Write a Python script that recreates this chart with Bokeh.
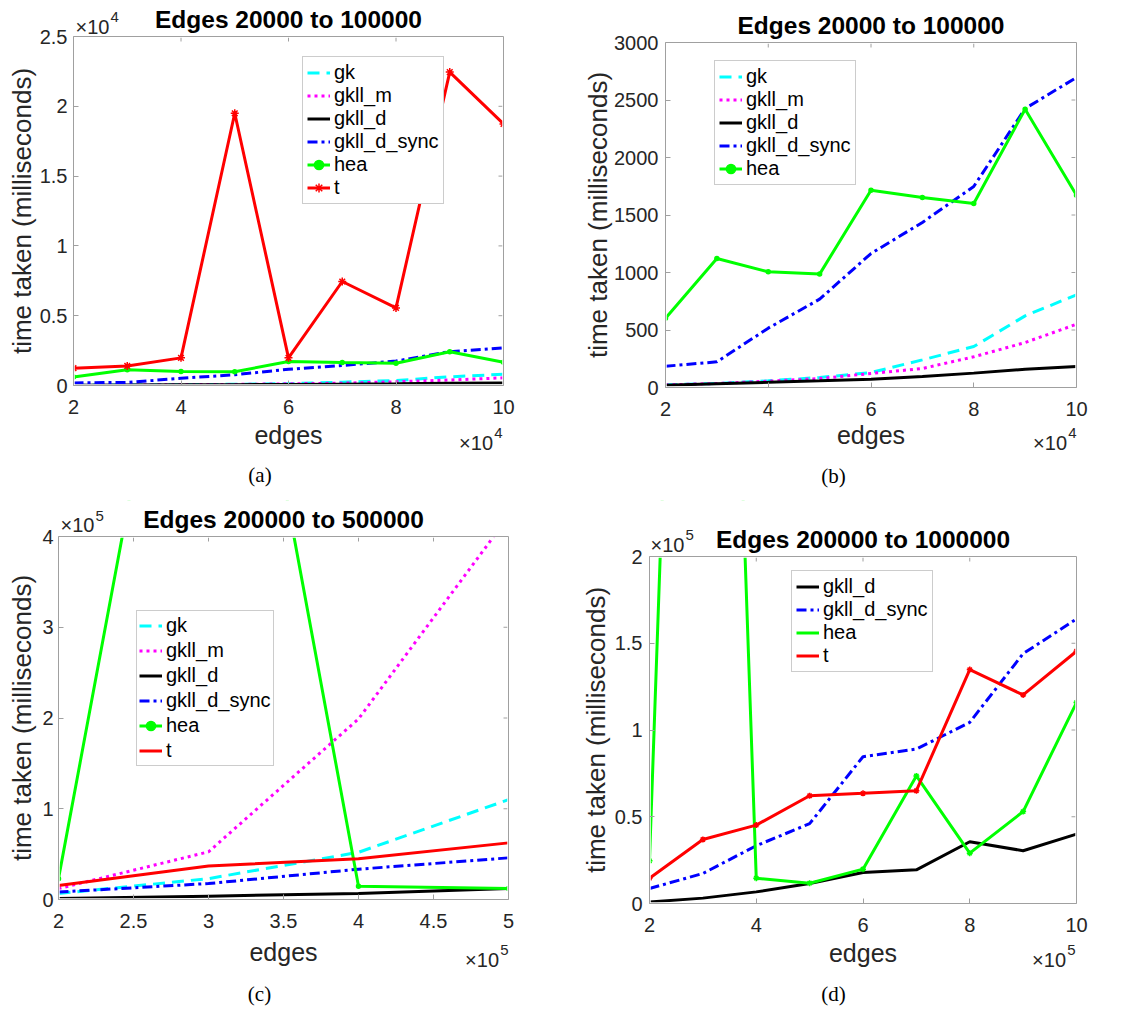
import math
from bokeh.plotting import figure
from bokeh.models import FixedTicker, Range1d, Label
from bokeh.layouts import column, row
from bokeh.embed import file_html
from bokeh.resources import INLINE

FONT = "Liberation Sans"
SERIF = "Liberation Serif"
GRAY = "#a0a0a0"
TXT = "#262626"

# ---------------- data ----------------
edges_small = [20000, 30000, 40000, 50000, 60000, 70000, 80000, 90000, 100000]
gk_small = [23, 35, 58, 87, 130, 240, 356, 623, 806]
gkll_m_small = [23, 35, 55, 78, 122, 165, 267, 391, 550]
gkll_d_small = [20, 33, 45, 58, 72, 96, 125, 159, 183]
gkll_d_sync_small = [185, 223, 516, 768, 1165, 1435, 1748, 2426, 2696]
hea_small = [603, 1122, 1006, 986, 1716, 1652, 1600, 2420, 1672]
t_small = [1240, 1400, 1980, 19500, 1980, 7450, 5560, 22450, 18740]

edges_mid = [200000, 300000, 400000, 500000]
gk_mid = [6600, 23000, 52000, 110000]
gkll_m_mid = [12000, 52500, 199000, 422000]
gkll_d_mid = [1000, 3700, 6600, 12000]
gkll_d_sync_mid = [8200, 17600, 33400, 45900]
hea_mid = [23000, 910000, 14700, 12000]
t_mid = [15400, 37000, 44800, 62400]

edges_large = [200000, 300000, 400000, 500000, 600000, 700000, 800000, 900000, 1000000]
gkll_d_large = [800, 3100, 6700, 11500, 17900, 19400, 35600, 30400, 40000]
gkll_d_sync_large = [8650, 17300, 33300, 46000, 84600, 89000, 104400, 144000, 164000]
hea_large = [24600, 900000, 14600, 11700, 19800, 73500, 29000, 53000, 115800]
t_large = [14600, 36900, 45200, 62100, 63500, 65000, 134800, 120200, 145400]

# tick labels
ticks_a_x = [20000, 40000, 60000, 80000, 100000]
labels_a_x = ["2", "4", "6", "8", "10"]
ticks_a_y = [0, 5000, 10000, 15000, 20000, 25000]
labels_a_y = ["0", "0.5", "1", "1.5", "2", "2.5"]
ticks_b_y = [0, 500, 1000, 1500, 2000, 2500, 3000]
labels_b_y = ["0", "500", "1000", "1500", "2000", "2500", "3000"]
ticks_c_x = [200000, 250000, 300000, 350000, 400000, 450000, 500000]
labels_c_x = ["2", "2.5", "3", "3.5", "4", "4.5", "5"]
ticks_c_y = [0, 100000, 200000, 300000, 400000]
labels_c_y = ["0", "1", "2", "3", "4"]
ticks_d_x = [200000, 400000, 600000, 800000, 1000000]
labels_d_x = ["2", "4", "6", "8", "10"]
ticks_d_y = [0, 50000, 100000, 150000, 200000]
labels_d_y = ["0", "0.5", "1", "1.5", "2"]

STYLE = {
    "gk": dict(color="#00ffff", dash="12 7"),
    "gkll_m": dict(color="#ff00ff", dash="3 4"),
    "gkll_d": dict(color="#000000", dash="solid"),
    "gkll_d_sync": dict(color="#0000ff", dash="10 4 3 4"),
    "hea": dict(color="#00ff00", dash="solid"),
    "t": dict(color="#ff0000", dash="solid"),
}


def style_axis(ax, ticks, labels, standoff, fixed):
    ax.fixed_location = fixed
    ax.ticker = FixedTicker(ticks=ticks)
    ax.major_label_overrides = {k: v for k, v in zip(ticks, labels)}
    ax.minor_tick_line_color = None
    ax.major_tick_in = 5
    ax.major_tick_out = 0
    ax.major_tick_line_color = GRAY
    ax.axis_line_color = None
    ax.major_label_text_font = FONT
    ax.major_label_text_font_size = "20px"
    ax.major_label_text_color = TXT
    ax.major_label_standoff = standoff


def put_text(p, ch, x, base, text, size, font=FONT, color=TXT, align="left",
             style="normal", baseline="alphabetic", angle=0.0):
    px = float(size.replace("px", ""))
    lift = 0.3 * px if baseline == "alphabetic" else 0.0
    p.add_layout(Label(x=x, y=ch - base + lift, x_units="screen", y_units="screen",
                       text=text, text_font=font, text_font_size=size,
                       text_font_style=style, text_color=color, text_align=align,
                       text_baseline=baseline, angle=angle))


def panel(cw, ch, box, title, title_base, xr, yr, xt, xl, yt, yl, ystandoff,
          xs, series, markers, legend_box, row_h, leg_pad, ylab_xy, edges_base,
          cap, cap_cx, cap_base, mult, xm_right, xm_base, ym_left, ym_base):
    bl, bt, br, bb = box                      # the axes box, in canvas pixels
    kx = (xr[1] - xr[0]) / (br - bl)
    ky = (yr[1] - yr[0]) / (bb - bt)
    x0, x1 = xr[0] - bl * kx, xr[1] + (cw - br) * kx
    y0, y1 = yr[0] - (ch - bb) * ky, yr[1] + bt * ky
    p = figure(width=cw, height=ch, output_backend="svg", toolbar_location=None,
               x_range=Range1d(x0, x1), y_range=Range1d(y0, y1),
               min_border=0, min_border_left=0, min_border_right=0,
               min_border_top=0, min_border_bottom=0)
    if "frame_align" in p.properties():
        p.frame_align = False
    p.xgrid.visible = False
    p.ygrid.visible = False
    p.outline_line_color = None
    p.background_fill_color = "white"
    p.border_fill_color = "white"

    style_axis(p.xaxis[0], xt, xl, 14, yr[0])
    style_axis(p.yaxis[0], yt, yl, ystandoff, xr[0])

    # data
    for name, ys in series:
        st = STYLE[name]
        p.line(xs, ys, line_color=st["color"], line_width=3,
               line_dash=st["dash"], legend_label=name)
        if name in markers:
            mk, sz, in_legend = markers[name]
            kw = dict(marker=mk, size=sz, line_color=st["color"],
                      fill_color=st["color"], line_width=1.5)
            if in_legend:
                kw["legend_label"] = name
            p.scatter(xs, ys, **kw)

    # inward ticks on the top and right sides of the box
    p.scatter(xt, [yr[1]] * len(xt), marker="dash", angle=math.pi / 2, size=10,
              line_color=GRAY, line_width=1)
    p.scatter([xr[1]] * len(yt), yt, marker="dash", size=10,
              line_color=GRAY, line_width=1)

    # white masks (reaching past the canvas edges) clip everything to the box;
    # drawn twice so that no anti-aliased trace survives at the canvas edge
    ex = x1 - x0
    ey = y1 - y0
    for _ in range(2):
        p.quad(left=[x0 - ex, x0 - ex, x0 - ex, xr[1]],
               right=[x1 + ex, x1 + ex, xr[0], x1 + ex],
               bottom=[yr[1], y0 - ey, yr[0], yr[0]],
               top=[y1 + ey, yr[0], yr[1], yr[1]],
               fill_color="white", line_color="white", line_width=2)
    # the box itself
    p.quad(left=[xr[0]], right=[xr[1]], bottom=[yr[0]], top=[yr[1]],
           fill_color=None, line_color=GRAY, line_width=1)

    lg = p.legend[0]
    lg.location = (legend_box[0], ch - legend_box[1])
    lg.label_text_font = FONT
    lg.label_text_font_size = "20px"
    lg.label_text_color = "black"
    lg.glyph_width = 23
    lg.glyph_height = row_h
    lg.label_height = row_h
    lg.spacing = 0
    lg.padding = leg_pad
    lg.margin = 0
    lg.label_standoff = 4
    lg.border_line_color = "#999999"
    lg.border_line_width = 1
    lg.background_fill_alpha = 1.0

    cx = (bl + br) / 2
    put_text(p, ch, cx, title_base, title, "24.5px", color="black",
             align="center", style="bold")
    put_text(p, ch, cx, edges_base, "edges", "25px", align="center")
    put_text(p, ch, ylab_xy[0], ylab_xy[1], "time taken (milliseconds)", "26px",
             align="center", baseline="middle", angle=math.pi / 2)
    put_text(p, ch, cap_cx, cap_base, cap, "21px", font=SERIF, color="black",
             align="center")
    # x multiplier
    put_text(p, ch, xm_right, xm_base - 11, mult, "15px", align="right")
    put_text(p, ch, xm_right - 9.5, xm_base, "×10", "20px", align="right")
    # y multiplier
    if ym_left is not None:
        put_text(p, ch, ym_left, ym_base, "×10", "20px")
        put_text(p, ch, ym_left + 35, ym_base - 11, mult, "15px")
    return p


series_a = [("gk", gk_small), ("gkll_m", gkll_m_small), ("gkll_d", gkll_d_small),
            ("gkll_d_sync", gkll_d_sync_small), ("hea", hea_small), ("t", t_small)]
series_b = series_a[:5]
series_c = [("gk", gk_mid), ("gkll_m", gkll_m_mid), ("gkll_d", gkll_d_mid),
            ("gkll_d_sync", gkll_d_sync_mid), ("hea", hea_mid), ("t", t_mid)]
series_d = [("gkll_d", gkll_d_large), ("gkll_d_sync", gkll_d_sync_large),
            ("hea", hea_large), ("t", t_large)]

pa = panel(570, 500, (73, 36, 503, 385), "Edges 20000 to 100000", 26.5,
           (20000, 100000), (0, 25000), ticks_a_x, labels_a_x, ticks_a_y, labels_a_y, 6,
           edges_small, series_a,
           {"hea": ("circle", 4, True), "t": ("asterisk", 8, True)},
           (302, 204), 23, 4, (21, 210.5), 442,
           "(a)", 259.5, 481, "4", 502, 448, 75, 32)
pb = panel(573, 500, (95, 42, 506, 387), "Edges 20000 to 100000", 32,
           (20000, 100000), (0, 3000), ticks_a_x, labels_a_x, ticks_b_y, labels_b_y, 7,
           edges_small, series_b, {"hea": ("circle", 4, True)},
           (144, 185), 23, 4, (27, 214.5), 442,
           "(b)", 263, 482, "4", 506, 448, None, None)
pc = panel(570, 509, (58, 36, 508, 399), "Edges 200000 to 500000", 26,
           (200000, 500000), (0, 400000), ticks_c_x, labels_c_x, ticks_c_y, labels_c_y, 5,
           edges_mid, series_c, {"hea": ("circle", 4, True)},
           (136, 266), 25, 2, (21, 217.5), 459,
           "(c)", 259, 500, "5", 508, 465, 60, 30.7)
pd_ = panel(573, 509, (79, 56, 506, 403), "Edges 200000 to 1000000", 46,
            (200000, 1000000), (0, 200000), ticks_d_x, labels_d_x, ticks_d_y, labels_d_y, 7,
            edges_large, series_d,
            {"hea": ("asterisk", 6, False), "t": ("asterisk", 6, False)},
            (221, 172), 23, 4, (25.5, 229.5), 460,
            "(d)", 263, 500, "5", 505, 465, 80, 50)

layout = column(row(pa, pb, spacing=0), row(pc, pd_, spacing=0), spacing=0)
open("out.html", "w").write(file_html(layout, INLINE))
